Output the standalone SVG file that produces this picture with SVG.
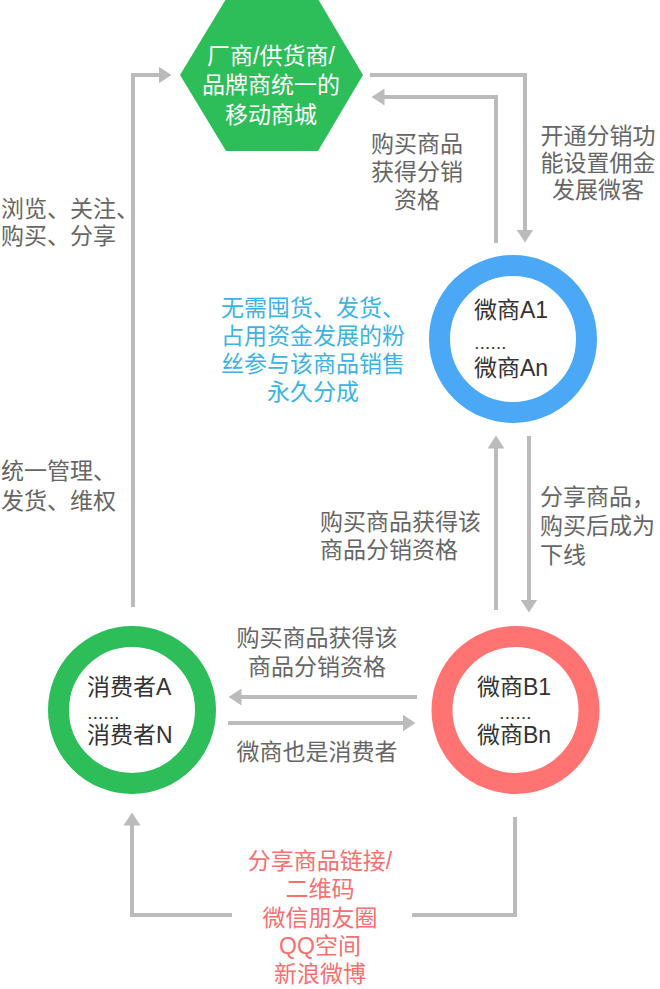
<svg xmlns="http://www.w3.org/2000/svg" width="660" height="989" viewBox="0 0 660 989">
<style>
text{font-family:"Liberation Sans","Noto Sans CJK SC",sans-serif;font-size:23px}
.g{fill:#666}
.d{fill:#333}
.w{fill:#fff}
.b{fill:#3CB3E2}
.r{fill:#F96E6E}
.m{text-anchor:middle}
.dots{font-size:13px;font-weight:bold;letter-spacing:1.8px}
.ln{fill:none;stroke:#BBBBBB;stroke-width:4;stroke-linejoin:miter}
.ring{fill:none;stroke-width:21}
</style>
<defs>
<marker id="ah" viewBox="0 -8.5 13 17" refX="0.5" refY="0" markerWidth="13" markerHeight="17" markerUnits="userSpaceOnUse" orient="auto">
<path d="M0,-8.5 L13,0 L0,8.5 Z" fill="#BBBBBB"/>
</marker>
</defs>
<rect width="660" height="989" fill="#fff"/>
<g id="connectors">
<path class="ln" d="M133,607 V75 H159" marker-end="url(#ah)"/>
<path class="ln" d="M370,75 H525 V230" marker-end="url(#ah)"/>
<path class="ln" d="M496,243 V97 H384" marker-end="url(#ah)"/>
<path class="ln" d="M496,610 V448" marker-end="url(#ah)"/>
<path class="ln" d="M529,436 V600" marker-end="url(#ah)"/>
<path class="ln" d="M417,697 H241" marker-end="url(#ah)"/>
<path class="ln" d="M228,723 H403" marker-end="url(#ah)"/>
<path class="ln" d="M515,817 V915 H412 M232,915 H132 V825" marker-end="url(#ah)"/>
</g>
<g id="mall">
<polygon points="180,75 226,-1 318,-1 363,75 318,151 226,151" fill="#2DBE5A"/>
<text class="w m"><tspan x="271" y="64">厂商/供货商/</tspan><tspan x="271" y="93">品牌商统一的</tspan><tspan x="271" y="123">移动商城</tspan></text>
</g>
<g id="microA">
<circle cx="513" cy="339" r="73.5" class="ring" stroke="#4AA8F7"/>
<text class="d" x="474" y="318">微商A1</text>
<text class="d dots" x="475" y="348.5">......</text>
<text class="d" x="474" y="376">微商An</text>
</g>
<g id="consumer">
<circle cx="132" cy="710" r="73.5" class="ring" stroke="#2DBE5A"/>
<text class="d" x="87" y="695">消费者A</text>
<text class="d dots" x="88" y="718.5">......</text>
<text class="d" x="87" y="743">消费者N</text>
</g>
<g id="microB">
<circle cx="515.5" cy="710" r="73.5" class="ring" stroke="#FF7373"/>
<text class="d" x="477" y="695">微商B1</text>
<text class="d dots" x="500" y="718.5">......</text>
<text class="d" x="477" y="743">微商Bn</text>
</g>
<g id="labels">
<text class="g"><tspan x="1" y="217">浏览、关注、</tspan><tspan x="1" y="244">购买、分享</tspan></text>
<text class="g"><tspan x="1" y="479">统一管理、</tspan><tspan x="1" y="509">发货、维权</tspan></text>
<text class="g m"><tspan x="417" y="152">购买商品</tspan><tspan x="417" y="180">获得分销</tspan><tspan x="417" y="208">资格</tspan></text>
<text class="g m"><tspan x="598" y="144">开通分销功</tspan><tspan x="598" y="171">能设置佣金</tspan><tspan x="598" y="198">发展微客</tspan></text>
<text class="b m"><tspan x="313" y="316">无需囤货、发货、</tspan><tspan x="313" y="344">占用资金发展的粉</tspan><tspan x="313" y="372">丝参与该商品销售</tspan><tspan x="313" y="400">永久分成</tspan></text>
<text class="g"><tspan x="320" y="530">购买商品获得该</tspan><tspan x="320" y="558">商品分销资格</tspan></text>
<text class="g"><tspan x="540" y="505">分享商品，</tspan><tspan x="540" y="534">购买后成为</tspan><tspan x="540" y="563">下线</tspan></text>
<text class="g m"><tspan x="317" y="646">购买商品获得该</tspan><tspan x="317" y="675">商品分销资格</tspan></text>
<text class="g m" x="317" y="760">微商也是消费者</text>
<text class="r m"><tspan x="320" y="869">分享商品链接/</tspan><tspan x="320" y="897">二维码</tspan><tspan x="320" y="926">微信朋友圈</tspan><tspan x="320" y="954">QQ空间</tspan><tspan x="320" y="982">新浪微博</tspan></text>
</g>
</svg>
